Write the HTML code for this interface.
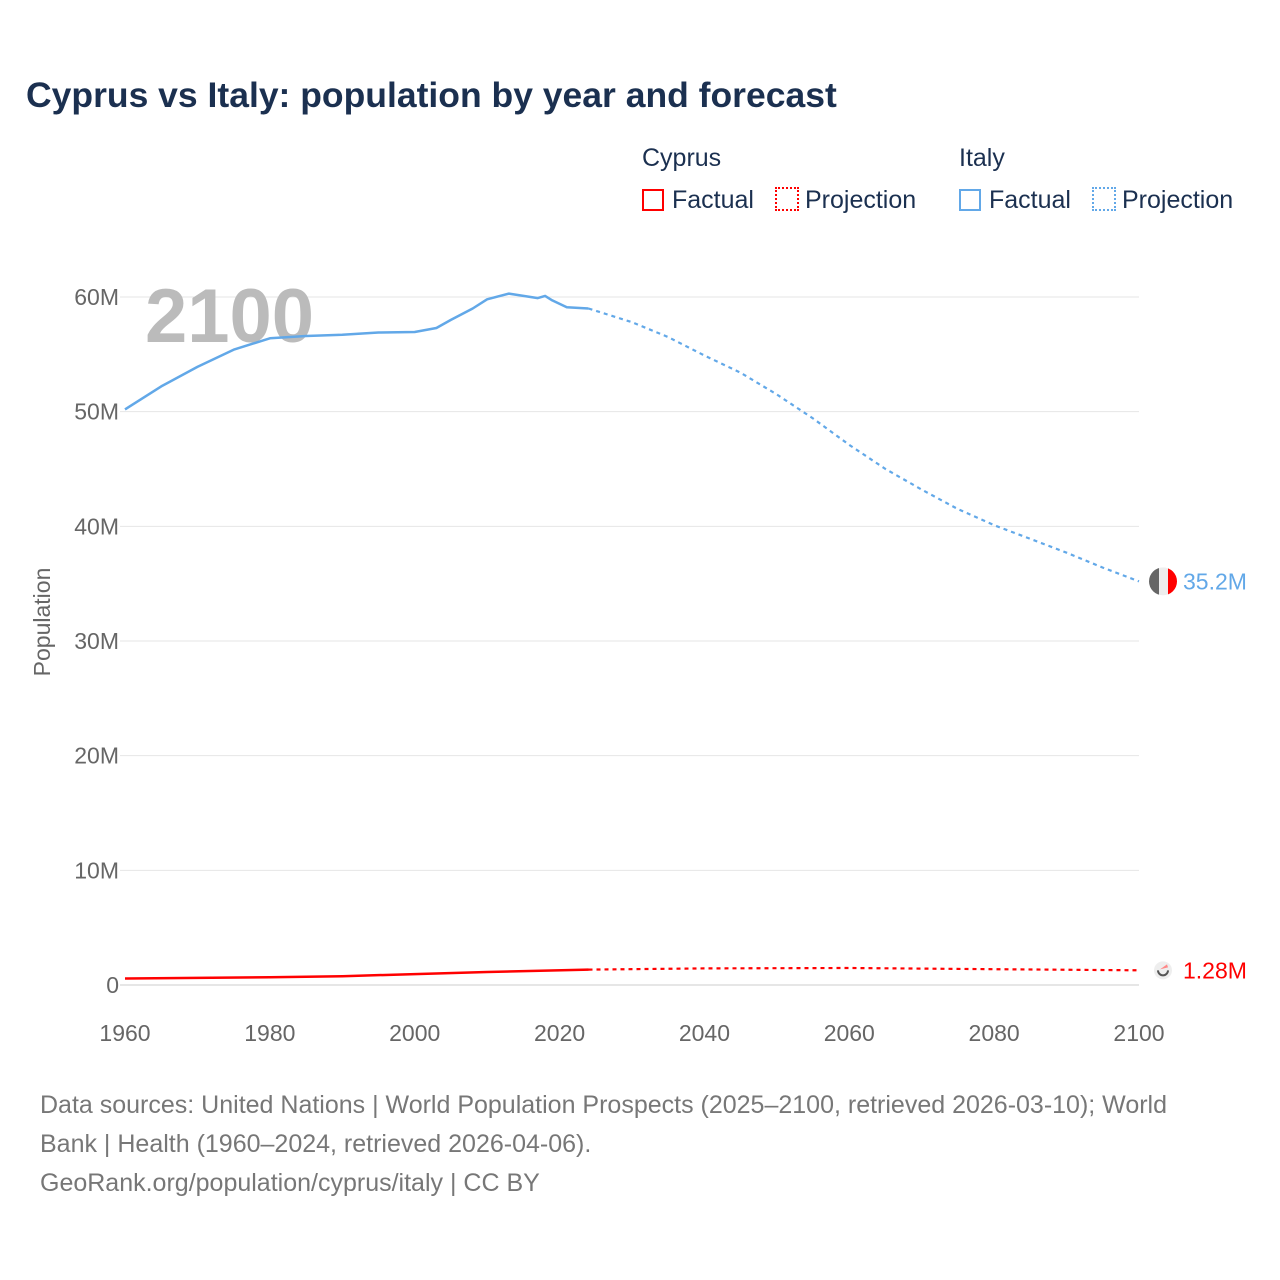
<!DOCTYPE html>
<html><head><meta charset="utf-8"><style>
body{margin:0;background:#fff;font-family:"Liberation Sans",sans-serif;}
#wrap{position:relative;width:1280px;height:1280px;overflow:hidden;}
.t{position:absolute;white-space:nowrap;}
</style></head><body>
<div id="wrap">
<div class="t" style="left:26px;top:75px;font-size:35.5px;font-weight:bold;color:#1b3050;">Cyprus vs Italy: population by year and forecast</div>
<div class="t" style="left:642px;top:144px;font-size:25px;color:#1b3050;">Cyprus</div>
<div class="t" style="left:959px;top:144px;font-size:25px;color:#1b3050;">Italy</div>
<div class="t" style="left:642px;top:186px;font-size:25px;color:#1b3050;"><span style="display:inline-block;width:22px;height:22px;border:2px solid #f00;box-sizing:border-box;vertical-align:-3px;margin-right:8px;"></span>Factual</div>
<div class="t" style="left:775px;top:186px;font-size:25px;color:#1b3050;"><span style="display:inline-block;width:24px;height:24px;border:2px dotted #f00;box-sizing:border-box;vertical-align:-3px;margin-right:6px;"></span>Projection</div>
<div class="t" style="left:959px;top:186px;font-size:25px;color:#1b3050;"><span style="display:inline-block;width:22px;height:22px;border:2px solid #62a8e8;box-sizing:border-box;vertical-align:-3px;margin-right:8px;"></span>Factual</div>
<div class="t" style="left:1092px;top:186px;font-size:25px;color:#1b3050;"><span style="display:inline-block;width:24px;height:24px;border:2px dotted #62a8e8;box-sizing:border-box;vertical-align:-3px;margin-right:6px;"></span>Projection</div>
<svg id="plot" width="1280" height="1280" style="position:absolute;left:0;top:0;"></svg>
<div class="t" style="left:40px;top:1086px;font-size:25px;line-height:39px;color:#777;white-space:normal;width:1175px;">Data sources: United Nations | World Population Prospects (2025–2100, retrieved 2026-03-10); World Bank | Health (1960–2024, retrieved 2026-04-06).<br>GeoRank.org/population/cyprus/italy | CC BY</div>
</div>
<script>
const years=[1960,1965,1970,1975,1980,1985,1990,1995,2000,2003,2005,2008,2010,2013,2015,2017,2018,2019,2021,2024];
const italy=[50.2,52.2,53.9,55.4,56.4,56.6,56.7,56.9,56.95,57.3,58.0,59.0,59.8,60.3,60.1,59.9,60.1,59.7,59.1,59.0];
const projYears=[2024,2030,2035,2040,2045,2050,2055,2060,2065,2070,2075,2080,2085,2090,2095,2100];
const italyProj=[59.0,57.8,56.5,54.9,53.4,51.5,49.4,47.1,45.0,43.2,41.5,40.1,38.9,37.7,36.4,35.2];
const cyYears=[1960,1970,1980,1990,2000,2010,2024];
const cyprus=[0.57,0.62,0.68,0.77,0.95,1.13,1.34];
const cyProj=[1.34,1.45,1.48,1.38,1.28];
const cyProjYears=[2024,2040,2060,2080,2100];
const yTicks=[0,10,20,30,40,50,60];
const xTicks=[1960,1980,2000,2020,2040,2060,2080,2100];
const NS='http://www.w3.org/2000/svg';
const svg=document.getElementById('plot');
const X=y=>125+(y-1960)*(1014/140);
const Y=v=>985-v*(688/60);
function mk(t,a){const e=document.createElementNS(NS,t);for(const k in a)e.setAttribute(k,a[k]);svg.appendChild(e);return e;}
yTicks.forEach(v=>{
 const l=mk('line',{x1:120,x2:1139,y1:Y(v),y2:Y(v),stroke:v===0?'#ccc':'#e6e6e6','stroke-width':1});
 
 
 const t=mk('text',{x:119,y:Y(v)+8,'text-anchor':'end','font-size':23,fill:'#666','font-family':'Liberation Sans, sans-serif'});
 t.textContent=v===0?'0':v+'M';
 
 
});
xTicks.forEach(v=>{
 const t=mk('text',{x:X(v),y:1041,'text-anchor':'middle','font-size':23,fill:'#666','font-family':'Liberation Sans, sans-serif'});
 t.textContent=v;
 
 
});
const yt=mk('text',{x:0,y:0,transform:'translate(50,622) rotate(-90)','text-anchor':'middle','font-size':23,fill:'#666','font-family':'Liberation Sans, sans-serif'});
yt.textContent='Population';


const yr=mk('text',{x:145,y:342,'font-size':76,'font-weight':'bold',fill:'#bbb','font-family':'Liberation Sans, sans-serif'});
yr.textContent='2100';


function path(xs,vs,color,dash,name){
 const d=xs.map((x,i)=>(i?'L':'M')+X(x).toFixed(1)+','+Y(vs[i]).toFixed(1)).join(' ');
 const p=mk('path',{d:d,fill:'none',stroke:color,'stroke-width':dash?2.2:2.5,'stroke-dasharray':dash?'4,4':'none','stroke-linejoin':'round'});
 
 
}
path(years,italy,'#62a8e8',false,'italy-factual-line');
path(projYears,italyProj,'#62a8e8',true,'italy-projection-line');
path(cyYears,cyprus,'#f00',false,'cyprus-factual-line');
path(cyProjYears,cyProj,'#f00',true,'cyprus-projection-line');
const iy=Y(italyProj[italyProj.length-1]), cy=Y(cyProj[cyProj.length-1]), ex=X(2100)+24;
const g=mk('g',{});


g.innerHTML=`<clipPath id="cc"><circle cx="${ex}" cy="${iy}" r="14"/></clipPath><g clip-path="url(#cc)"><rect x="${ex-14}" y="${iy-14}" width="10" height="28" fill="#666"/><rect x="${ex-4}" y="${iy-14}" width="9" height="28" fill="#eee"/><rect x="${ex+5}" y="${iy-14}" width="10" height="28" fill="#f00"/></g>`;
const c=mk('circle',{cx:ex,cy:cy,r:9,fill:'#eee'});


const c2=mk('path',{d:`M${ex-5},${cy} a5,5 0 0,0 10,0`,fill:'none',stroke:'#555','stroke-width':2});


const c3=mk('path',{d:`M${ex-3},${cy-1} l7,-5 l1,3 z`,fill:'#f88'});


const li=mk('text',{x:1183,y:iy+8,'font-size':23,fill:'#62a8e8','font-family':'Liberation Sans, sans-serif'});
li.textContent='35.2M';


const lc=mk('text',{x:1183,y:cy+8,'font-size':23,fill:'#f00','font-family':'Liberation Sans, sans-serif'});
lc.textContent='1.28M';


</script>
</body></html>
